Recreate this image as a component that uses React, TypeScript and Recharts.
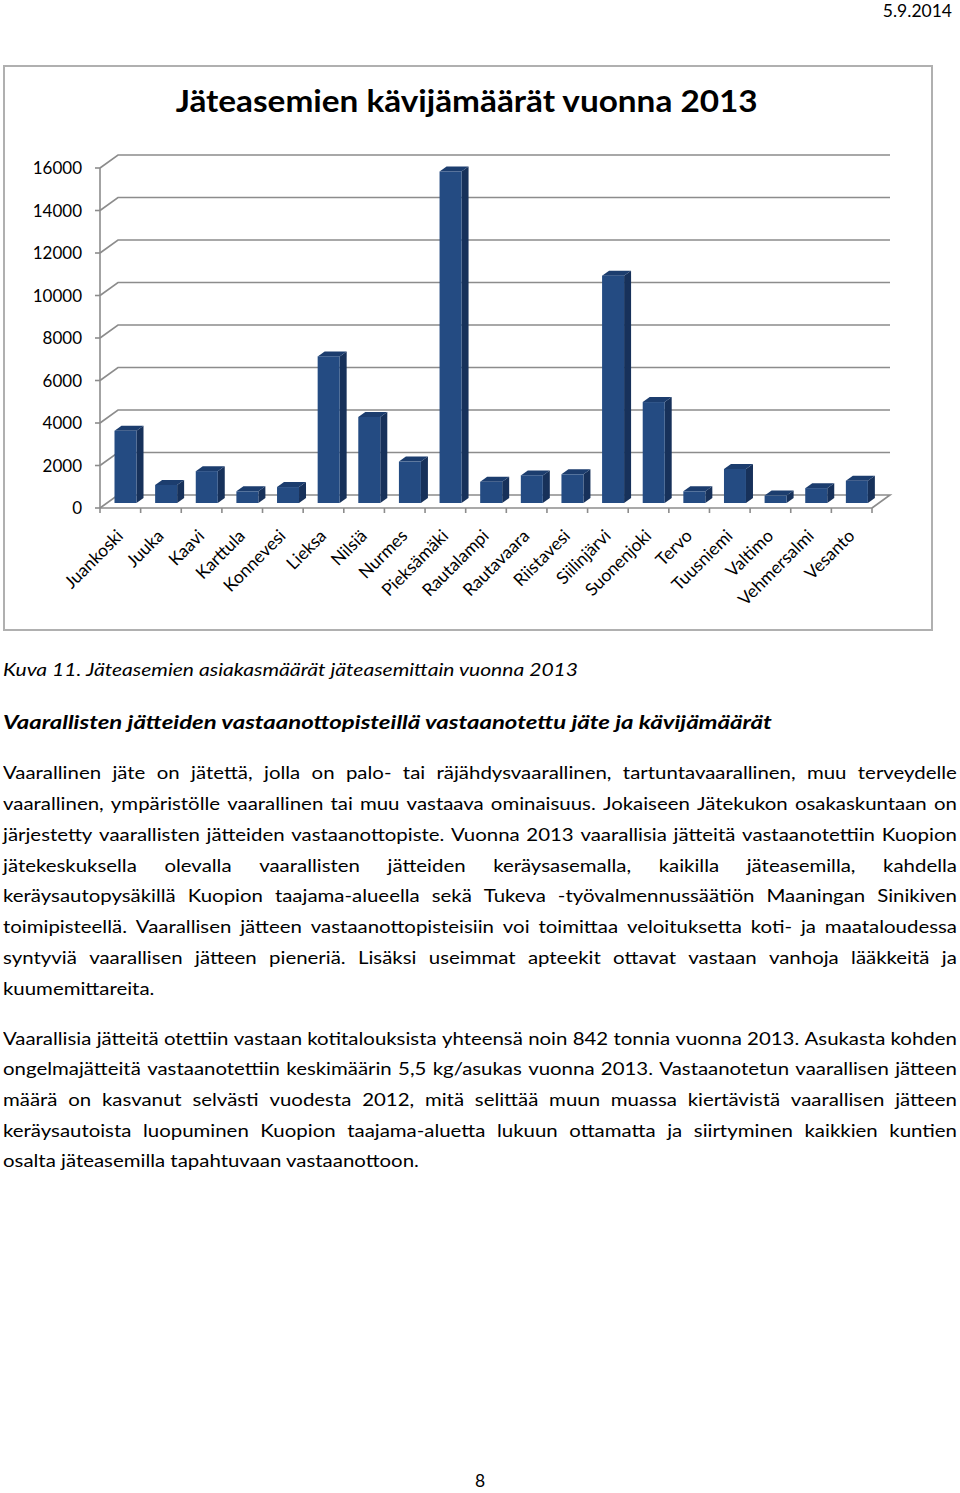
import * as React from 'react';
import { BarChart, Bar, XAxis, YAxis, CartesianGrid } from 'recharts';

const stations = [
  'Juankoski', 'Juuka', 'Kaavi', 'Karttula', 'Konnevesi', 'Lieksa', 'Nilsiä', 'Nurmes',
  'Pieksämäki', 'Rautalampi', 'Rautavaara', 'Riistavesi', 'Siilinjärvi', 'Suonenjoki',
  'Tervo', 'Tuusniemi', 'Valtimo', 'Vehmersalmi', 'Vesanto',
];
const visitors = [
  3400, 850, 1500, 550, 750, 6900, 4050, 1950,
  15600, 1000, 1300, 1350, 10700, 4750,
  550, 1600, 350, 700, 1050,
];
const yTicks = [0, 2000, 4000, 6000, 8000, 10000, 12000, 14000, 16000];

const title = 'Jäteasemien kävijämäärät vuonna 2013';
const caption = 'Kuva 11. Jäteasemien asiakasmäärät jäteasemittain vuonna 2013';
const heading = 'Vaarallisten jätteiden vastaanottopisteillä vastaanotettu jäte ja kävijämäärät';
const para1 = [
  'Vaarallinen jäte on jätettä, jolla on palo- tai räjähdysvaarallinen, tartuntavaarallinen, muu terveydelle',
  'vaarallinen, ympäristölle vaarallinen tai muu vastaava ominaisuus. Jokaiseen Jätekukon osakaskuntaan on',
  'järjestetty vaarallisten jätteiden vastaanottopiste. Vuonna 2013 vaarallisia jätteitä vastaanotettiin Kuopion',
  'jätekeskuksella olevalla vaarallisten jätteiden keräysasemalla, kaikilla jäteasemilla, kahdella',
  'keräysautopysäkillä Kuopion taajama-alueella sekä Tukeva -työvalmennussäätiön Maaningan Sinikiven',
  'toimipisteellä. Vaarallisen jätteen vastaanottopisteisiin voi toimittaa veloituksetta koti- ja maataloudessa',
  'syntyviä vaarallisen jätteen pieneriä. Lisäksi useimmat apteekit ottavat vastaan vanhoja lääkkeitä ja',
  'kuumemittareita.',
];
const para2 = [
  'Vaarallisia jätteitä otettiin vastaan kotitalouksista yhteensä noin 842 tonnia vuonna 2013. Asukasta kohden',
  'ongelmajätteitä vastaanotettiin keskimäärin 5,5 kg/asukas vuonna 2013. Vastaanotetun vaarallisen jätteen',
  'määrä on kasvanut selvästi vuodesta 2012, mitä selittää muun muassa kiertävistä vaarallisen jätteen',
  'keräysautoista luopuminen Kuopion taajama-aluetta lukuun ottamatta ja siirtyminen kaikkien kuntien',
  'osalta jäteasemilla tapahtuvaan vastaanottoon.',
];

const data = stations.map((name, i) => ({ name, value: visitors[i] }));

const FONT = 'Lato, "Open Sans", sans-serif';
const GRID = '#8c8c8c';
const CHART_W = 960;
const CHART_H = 640;
const MARGIN = { top: 168, right: 88, left: 40, bottom: 32 };
const X_AXIS_H = 100;
const PLOT_BOTTOM = CHART_H - MARGIN.bottom - X_AXIS_H;
// depth of the back wall
const DX = 18;
const DY = 13;

const gridLine = (p: any) => {
  const { x1, x2, y1 } = p;
  let d = `M${x1},${y1} L${x1 + DX},${y1 - DY} L${x2 + DX},${y1 - DY}`;
  if (Math.abs(y1 - PLOT_BOTTOM) < 1) d += ` L${x2},${y1}`;
  return <path key={`g-${y1}`} d={d} stroke={GRID} strokeWidth={1.6} fill="none" />;
};

const Bar3D = (props: any) => {
  const { x, y, width, height } = props;
  if (!height || height <= 0) return null;
  const fx = x + 5.5;
  const fy = y - 5;
  const d = 7;
  const e = 5;
  return (
    <g>
      <polygon
        points={`${fx + width},${fy} ${fx + width + d},${fy - e} ${fx + width + d},${fy + height - e} ${fx + width},${fy + height}`}
        fill="#17315a"
      />
      <polygon
        points={`${fx},${fy} ${fx + d},${fy - e} ${fx + width + d},${fy - e} ${fx + width},${fy}`}
        fill="#1c3d6e"
      />
      <rect x={fx} y={fy} width={width} height={height} fill="#244b82" />
    </g>
  );
};

const StationTick = (props: any) => {
  const { x, y, payload, index } = props;
  const half = payload && payload.offset ? payload.offset : 772 / stations.length / 2;
  return (
    <g>
      <line x1={x - half} y1={y} x2={x - half} y2={y + 5} stroke={GRID} strokeWidth={1.6} />
      {index === stations.length - 1 && (
        <line x1={x + half} y1={y} x2={x + half} y2={y + 5} stroke={GRID} strokeWidth={1.6} />
      )}
      <text
        transform={`translate(${x + 4},${y + 29}) rotate(-45)`}
        textAnchor="end"
        fontFamily={FONT}
        fontSize={17.5}
        fill="#000"
      >
        {payload.value}
      </text>
    </g>
  );
};

const TextLine = ({ text, top, justify, scale = 1.2, style }: any) => {
  const base: React.CSSProperties = {
    position: 'absolute',
    left: 3,
    top,
    width: 954 / scale,
    height: 30,
    lineHeight: '30px',
    whiteSpace: 'nowrap',
    fontFamily: FONT,
    fontSize: 17,
    color: '#000',
    transform: `scaleX(${scale})`,
    transformOrigin: 'left center',
    ...style,
  };
  if (!justify) return <div style={base}>{text}</div>;
  return (
    <div style={{ ...base, display: 'flex', justifyContent: 'space-between' }}>
      {text.split(' ').map((w: string, i: number) => (
        <span key={i}>{w}</span>
      ))}
    </div>
  );
};

const App = () => {
  const p1Top = [758, 789, 820, 851, 881, 912, 943, 974];
  const p2Top = [1024, 1054, 1085, 1116, 1146];
  return (
    <div style={{ position: 'absolute', left: 0, top: 0, width: 960, height: 1493, background: '#fff', fontFamily: FONT }}>
      <div style={{ position: 'absolute', right: 8, top: 0, fontSize: 17.5, lineHeight: '22px' }}>5.9.2014</div>

      <div
        style={{
          position: 'absolute',
          left: 3,
          top: 65,
          width: 926,
          height: 562,
          border: '2px solid #b0b0b0',
        }}
      />
      <div
        style={{
          position: 'absolute',
          left: 3,
          top: 80,
          width: 928,
          textAlign: 'center',
          fontSize: 30,
          fontWeight: 700,
          lineHeight: '40px',
          transform: 'scaleX(1.11)',
          transformOrigin: '467px center',
        }}
      >
        {title}
      </div>

      <div style={{ position: 'absolute', left: 0, top: 0 }}>
        <BarChart width={CHART_W} height={CHART_H} data={data} margin={MARGIN} barSize={22}>
          <CartesianGrid vertical={false} horizontal={gridLine} />
          <XAxis
            dataKey="name"
            height={X_AXIS_H}
            interval={0}
            tickLine={false}
            tickSize={0}
            tickMargin={0}
            axisLine={{ stroke: GRID, strokeWidth: 1.6 }}
            tick={<StationTick />}
          />
          <YAxis
            width={60}
            domain={[0, 16000]}
            ticks={yTicks}
            interval={0}
            tickSize={5}
            tickMargin={13}
            axisLine={{ stroke: GRID, strokeWidth: 1.6 }}
            tickLine={{ stroke: GRID, strokeWidth: 1.6 }}
            tick={{ fontSize: 17, fill: '#000', fontFamily: FONT }}
          />
          <Bar dataKey="value" shape={<Bar3D />} isAnimationActive={false} />
        </BarChart>
      </div>

      <TextLine text={caption} top={655} scale={1.24} style={{ fontStyle: 'italic' }} />
      <TextLine text={heading} top={707} scale={1.26} style={{ fontStyle: 'italic', fontWeight: 700, fontSize: 19 }} />
      {para1.map((t, i) => (
        <TextLine key={`a${i}`} text={t} top={p1Top[i]} justify={i < para1.length - 1} />
      ))}
      {para2.map((t, i) => (
        <TextLine key={`b${i}`} text={t} top={p2Top[i]} justify={i < para2.length - 1} />
      ))}

      <div style={{ position: 'absolute', left: 0, width: 960, top: 1470, textAlign: 'center', fontSize: 17.5, lineHeight: '22px' }}>8</div>
    </div>
  );
};

export default App;
